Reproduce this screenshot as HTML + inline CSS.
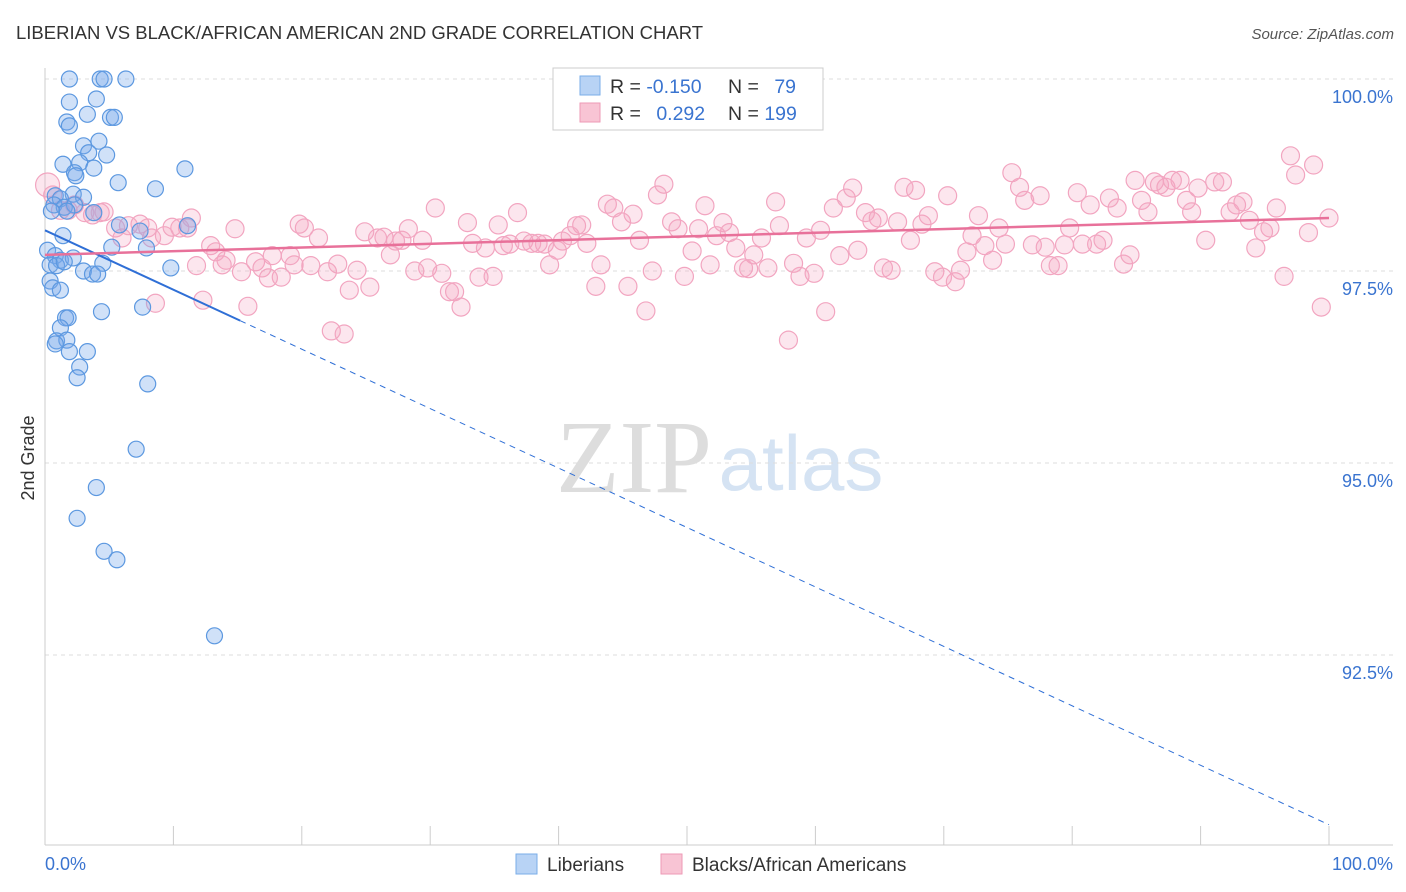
<!DOCTYPE html>
<html><head><meta charset="utf-8">
<style>
body{margin:0;background:#fff;font-family:"Liberation Sans",sans-serif;}
svg{display:block}
</style></head>
<body>
<svg id="chart" width="1406" height="892" xmlns="http://www.w3.org/2000/svg">
<text x="16" y="39" font-size="18.5" fill="#333">LIBERIAN VS BLACK/AFRICAN AMERICAN 2ND GRADE CORRELATION CHART</text>
<text x="1394" y="39" font-size="15" fill="#555" font-style="italic" text-anchor="end">Source: ZipAtlas.com</text>
<text x="34" y="458" font-size="18" fill="#333" transform="rotate(-90 34 458)" text-anchor="middle">2nd Grade</text>
<text x="634" y="492" font-size="104" fill="#ddd" font-family="Liberation Serif,serif" text-anchor="middle">ZIP</text>
<text x="801" y="490" font-size="78" fill="#d5e3f3" text-anchor="middle">atlas</text>
<g id="grid"></g><g id="axes"></g><g id="pink"></g><g id="blue"></g><g id="trends"></g>
<g>
<rect x="553" y="68" width="270" height="62" fill="#fff" stroke="#ccc"/>
<rect x="580" y="76" width="20" height="19" fill="#b8d3f5" stroke="#7aaee8"/>
<rect x="580" y="103" width="20" height="19" fill="#f8c4d4" stroke="#ee9ab6"/>
<text x="610" y="93" font-size="19.5" fill="#333">R = <tspan fill="#3a74d0">-0.150</tspan></text>
<text x="728" y="93" font-size="19.5" fill="#333">N = <tspan fill="#3a74d0" dx="10">79</tspan></text>
<text x="610" y="120" font-size="19.5" fill="#333">R = <tspan fill="#3a74d0" dx="10">0.292</tspan></text>
<text x="728" y="120" font-size="19.5" fill="#333">N = <tspan fill="#3a74d0">199</tspan></text>
</g>
<g>
<rect x="516" y="854" width="21" height="20" fill="#b8d3f5" stroke="#7aaee8"/>
<text x="547" y="871" font-size="19" fill="#333">Liberians</text>
<rect x="661" y="854" width="21" height="20" fill="#f8c4d4" stroke="#ee9ab6"/>
<text x="692" y="871" font-size="19" fill="#333">Blacks/African Americans</text>
</g>
<text x="45" y="870" font-size="18" fill="#3a74d0">0.0%</text>
<text x="1393" y="870" font-size="18" fill="#3a74d0" text-anchor="end">100.0%</text>
</svg>
<script>
const yTicks=[100,97.5,95,92.5];
const yTickLabels=["100.0%","97.5%","95.0%","92.5%"];
const blueX=[1.9,4.3,6.3,4.6,1.9,4.0,3.3,5.1,5.4,1.7,1.9,4.2,3.0,3.4,4.8,1.4,2.7,2.3,2.4,3.8,10.9,5.7,8.6,2.2,3.0,0.8,1.2,0.7,1.5,2.3,1.7,3.8,0.5,5.8,7.4,11.1,1.4,5.2,7.9,0.2,0.8,1.2,2.2,0.4,0.9,1.5,4.5,3.0,3.7,4.1,9.8,0.4,0.6,1.2,4.4,7.6,1.6,1.8,1.2,0.9,1.7,0.8,1.9,3.3,2.7,2.5,8.0,7.1,4.0,2.5,4.6,5.6,13.2];
const blueY=[100,100,100,100,99.70,99.74,99.54,99.5,99.5,99.44,99.39,99.19,99.13,99.04,99.01,98.89,98.91,98.78,98.74,98.84,98.83,98.65,98.57,98.50,98.46,98.48,98.44,98.36,98.33,98.36,98.28,98.26,98.28,98.10,98.02,98.09,97.96,97.81,97.80,97.77,97.70,97.64,97.67,97.58,97.57,97.62,97.60,97.50,97.46,97.46,97.54,97.37,97.28,97.25,96.97,97.03,96.89,96.89,96.76,96.59,96.60,96.55,96.45,96.45,96.25,96.11,96.03,95.18,94.68,94.28,93.85,93.74,92.75];
const pinkX=[0.2,0.6,1.2,1.8,2.3,3.1,3.7,4.3,4.6,5.5,6.0,6.5,7.4,8.0,8.3,8.6,9.3,9.9,10.5,11.1,11.4,11.8,12.3,12.9,13.3,13.8,14.1,14.8,15.3,15.8,16.4,16.9,17.4,17.7,18.4,19.1,19.4,19.8,20.2,20.7,21.3,22.0,22.3,22.8,23.3,23.7,24.3,24.9,25.3,25.9,26.4,26.9,27.3,27.8,28.3,28.8,29.4,29.8,30.4,30.9,31.5,31.9,32.4,32.9,33.3,33.8,34.3,34.9,35.3,35.7,36.2,36.8,37.3,37.9,38.4,38.9,39.3,39.9,40.3,40.9,41.4,41.8,42.2,42.9,43.3,43.8,44.3,44.9,45.4,45.8,46.3,46.8,47.3,47.7,48.2,48.8,49.3,49.8,50.4,50.9,51.4,51.8,52.3,52.8,53.3,53.8,54.4,54.8,55.2,55.8,56.3,56.9,57.2,57.9,58.3,58.8,59.3,59.9,60.4,60.8,61.4,61.9,62.4,62.9,63.3,63.9,64.4,64.9,65.3,65.9,66.4,66.9,67.4,67.8,68.3,68.8,69.3,69.9,70.3,70.9,71.3,71.8,72.2,72.7,73.2,73.8,74.3,74.8,75.3,75.9,76.3,76.9,77.5,77.9,78.3,78.9,79.4,79.8,80.4,80.8,81.4,81.9,82.4,82.9,83.5,84.0,84.5,84.9,85.4,85.9,86.4,86.8,87.3,87.8,88.4,88.9,89.3,89.8,90.4,91.1,91.7,92.3,92.8,93.3,93.8,94.3,94.9,95.4,95.9,96.5,97.0,97.4,98.4,98.8,99.4,100];
const pinkY=[98.62,98.49,98.29,98.29,98.36,98.26,98.23,98.26,98.27,98.06,97.93,98.09,98.11,98.06,97.93,97.08,97.96,98.07,98.06,98.06,98.19,97.57,97.12,97.83,97.75,97.58,97.64,98.05,97.49,97.04,97.62,97.54,97.41,97.70,97.42,97.70,97.58,98.11,98.06,97.57,97.93,97.49,96.72,97.59,96.68,97.25,97.51,98.01,97.29,97.93,97.94,97.71,97.89,97.90,98.05,97.50,97.90,97.54,98.32,97.47,97.23,97.23,97.03,98.13,97.86,97.42,97.80,97.43,98.10,97.83,97.85,98.26,97.89,97.86,97.86,97.85,97.58,97.77,97.89,97.96,98.09,98.10,97.86,97.30,97.58,98.37,98.32,98.14,97.30,98.24,97.90,96.98,97.50,98.49,98.63,98.14,98.05,97.43,97.76,98.05,98.35,97.58,97.96,98.13,98.00,97.80,97.54,97.53,97.71,97.93,97.54,98.40,98.09,96.60,97.60,97.43,97.93,97.47,98.03,96.97,98.32,97.70,98.45,98.58,97.77,98.26,98.15,98.19,97.54,97.51,98.14,98.59,97.90,98.55,98.11,98.22,97.49,97.42,98.48,97.36,97.51,97.75,97.96,98.22,97.83,97.64,98.06,97.85,98.78,98.59,98.42,97.84,98.48,97.81,97.57,97.57,97.84,98.06,98.52,97.85,98.36,97.85,97.90,98.45,98.32,97.59,97.71,98.68,98.42,98.27,98.66,98.62,98.59,98.68,98.68,98.42,98.27,98.58,97.90,98.66,98.66,98.27,98.36,98.40,98.16,97.80,98.01,98.06,98.32,97.43,99.00,98.75,98.00,98.88,97.03,98.19];
const blueTrend=[98.03,90.29];
const pinkTrend=[97.71,98.19];
const blueSolidEnd=15.2;

const NS="http://www.w3.org/2000/svg";
const X=v=>45+v*12.84;
const Y=v=>79+(100-v)*76.8;
function mk(tag,attrs,parent){const e=document.createElementNS(NS,tag);for(const k in attrs)e.setAttribute(k,attrs[k]);parent.appendChild(e);return e;}
const grid=document.getElementById('grid'),axes=document.getElementById('axes');
yTicks.forEach((t,i)=>{
  const l=mk('line',{x1:45,x2:1393,y1:Y(t),y2:Y(t),stroke:'#ddd','stroke-dasharray':'4,4'},grid);
  
  
  const tx=mk('text',{x:1393,y:Y(t)+24,'font-size':18,fill:'#3a74d0','text-anchor':'end'},grid);
  tx.textContent=yTickLabels[i];
  
  
});
const xa=mk('line',{x1:45,x2:1393,y1:845,y2:845,stroke:'#ccc'},axes);


const ya=mk('line',{x1:45,x2:45,y1:68,y2:845,stroke:'#ccc'},axes);


for(let i=0;i<=10;i++){
  const t=mk('line',{x1:X(i*10),x2:X(i*10),y1:826,y2:845,stroke:'#ccc'},axes);
  
  
}
const pg=document.getElementById('pink');
pinkX.forEach((x,i)=>{
  const c=mk('circle',{cx:X(x),cy:Y(pinkY[i]),r:i==0?12:9,fill:'rgba(244,165,195,0.28)',stroke:'#f2a5c0','stroke-width':1.2},pg);
  
  
});
const bg=document.getElementById('blue');
blueX.forEach((x,i)=>{
  const c=mk('circle',{cx:X(x),cy:Y(blueY[i]),r:8,fill:'rgba(120,170,235,0.35)',stroke:'#5c98e0','stroke-width':1.2},bg);
  
  
});
const tg=document.getElementById('trends');
const bAt=x=>blueTrend[0]+(blueTrend[1]-blueTrend[0])*x/100;
const l1=mk('line',{x1:X(0),y1:Y(bAt(0)),x2:X(blueSolidEnd),y2:Y(bAt(blueSolidEnd)),stroke:'#2f6fd6','stroke-width':2},tg);


const l2=mk('line',{x1:X(blueSolidEnd),y1:Y(bAt(blueSolidEnd)),x2:X(100),y2:Y(bAt(100)),stroke:'#2f6fd6','stroke-width':1,'stroke-dasharray':'6,5'},tg);


const l3=mk('line',{x1:X(0),y1:Y(pinkTrend[0]),x2:X(100),y2:Y(pinkTrend[1]),stroke:'#e8719a','stroke-width':2.5},tg);


</script>
</body></html>
